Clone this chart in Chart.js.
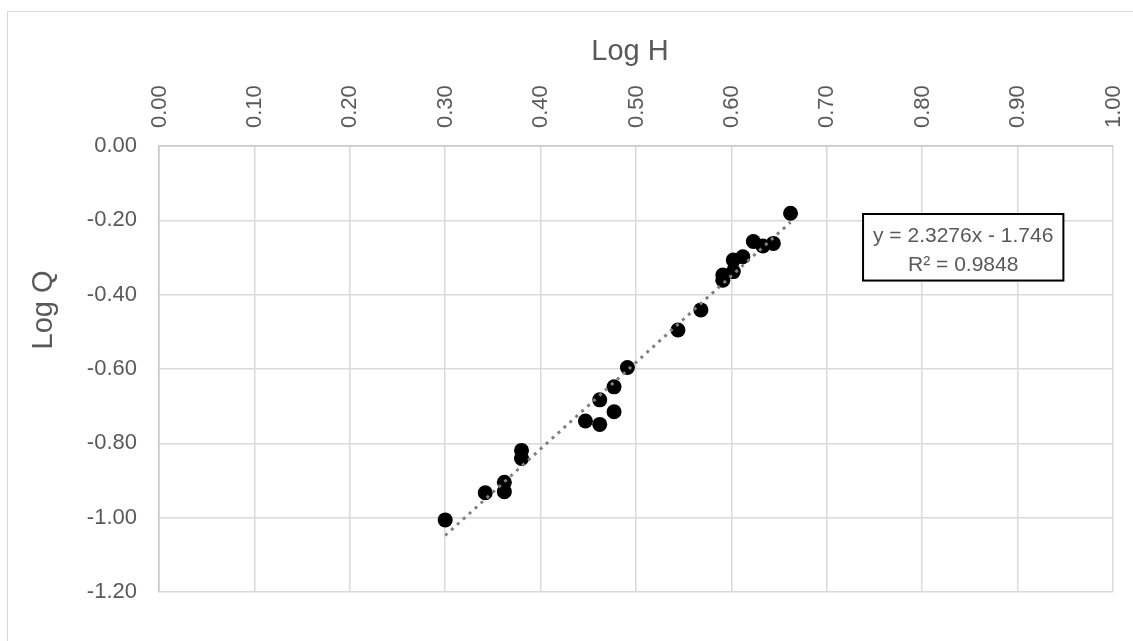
<!DOCTYPE html>
<html>
<head>
<meta charset="utf-8">
<script src="https://cdn.jsdelivr.net/npm/chart.js@4/dist/chart.umd.min.js"></script>
<style>
  html, body { margin: 0; padding: 0; background: #fff; }
  #wrap { width: 1133px; height: 641px; }
</style>
</head>
<body>
<div id="wrap"><canvas id="chart" width="1133" height="641"></canvas></div>
<script>
// Measured points (Log H, Log Q)
const logH = [0.300, 0.342, 0.362, 0.362, 0.380, 0.380, 0.447, 0.462, 0.462, 0.477, 0.477, 0.491,
              0.544, 0.568, 0.591, 0.591, 0.602, 0.602, 0.612, 0.623, 0.633, 0.644, 0.662];
const logQ = [-1.006, -0.933, -0.930, -0.905, -0.841, -0.819, -0.740, -0.749, -0.683, -0.715, -0.648, -0.596,
              -0.495, -0.441, -0.361, -0.347, -0.338, -0.307, -0.298, -0.257, -0.269, -0.262, -0.181];

// Linear trendline end points
const trendX = [0.300, 0.662];
const trendY = [-1.048, -0.205];

// Trendline label
const equationLines = ['y = 2.3276x - 1.746', 'R\u00b2 = 0.9848'];

const TEXT = '#595959';
const GRID = '#d9d9d9';
const FONT = '"Liberation Sans", Arial, sans-serif';

const points = logH.map((x, i) => ({ x: x, y: logQ[i] }));
const trend = trendX.map((x, i) => ({ x: x, y: trendY[i] }));

// Titles, outer frame and equation box
const decorPlugin = {
    id: 'decor',
    beforeDraw(chart) {
        const ctx = chart.ctx;
        ctx.save();
        ctx.strokeStyle = GRID;
        ctx.lineWidth = 1;
        ctx.strokeRect(7.5, 11.5, 1200, 700);
        ctx.restore();
    },
    afterDraw(chart) {
        const ctx = chart.ctx;
        const xs = chart.scales.x;
        const ys = chart.scales.y;
        ctx.save();
        ctx.fillStyle = TEXT;
        ctx.font = '29px ' + FONT;
        ctx.textAlign = 'center';
        ctx.textBaseline = 'alphabetic';
        ctx.fillText('Log H', 630, 60);

        ctx.translate(52, 310);
        ctx.rotate(-Math.PI / 2);
        ctx.fillText('Log Q', 0, 0);
        ctx.restore();

        // equation box, placed in data units
        const left = xs.getPixelForValue(0.738);
        const right = xs.getPixelForValue(0.948);
        const top = ys.getPixelForValue(-0.183);
        const bottom = ys.getPixelForValue(-0.362);
        ctx.save();
        ctx.fillStyle = '#fff';
        ctx.fillRect(left, top, right - left, bottom - top);
        ctx.strokeStyle = '#000';
        ctx.lineWidth = 2;
        ctx.strokeRect(left, top, right - left, bottom - top);
        ctx.fillStyle = TEXT;
        ctx.font = '21px ' + FONT;
        ctx.textAlign = 'center';
        ctx.textBaseline = 'alphabetic';
        const cx = (left + right) / 2;
        ctx.fillText(equationLines[0], cx, top + 28);
        ctx.fillText(equationLines[1], cx, top + 57);
        ctx.restore();
    }
};

const ctx = document.getElementById('chart').getContext('2d');
new Chart(ctx, {
    type: 'scatter',
    data: {
        datasets: [
            {
                label: 'Trend',
                data: trend,
                showLine: true,
                borderColor: '#7f7f7f',
                borderWidth: 3,
                borderDash: [3, 5],
                pointRadius: 0,
                order: 0
            },
            {
                label: 'Log Q',
                data: points,
                backgroundColor: '#000',
                borderWidth: 0,
                pointRadius: 7.5,
                pointHoverRadius: 7.5,
                order: 1
            }
        ]
    },
    options: {
        responsive: false,
        animation: false,
        layout: { padding: { left: 0, top: 0, right: 20, bottom: 49 } },
        plugins: {
            legend: { display: false },
            tooltip: { enabled: false }
        },
        scales: {
            x: {
                type: 'linear',
                position: 'top',
                min: 0,
                max: 1,
                afterFit: (s) => { s.height = 146; },
                grid: { color: GRID, lineWidth: 1.5, drawTicks: false },
                border: { color: '#c8c8c8', width: 1.5 },
                ticks: {
                    stepSize: 0.1,
                    autoSkip: false,
                    minRotation: 90,
                    maxRotation: 90,
                    padding: 18,
                    labelOffset: 27,
                    color: TEXT,
                    font: { family: FONT, size: 22 },
                    callback: (v) => v.toFixed(2)
                }
            },
            y: {
                type: 'linear',
                min: -1.2,
                max: 0,
                afterFit: (s) => { s.width = 159; },
                grid: { color: GRID, lineWidth: 1.5, drawTicks: false },
                border: { color: '#c8c8c8', width: 1.5 },
                ticks: {
                    stepSize: 0.2,
                    padding: 22,
                    color: TEXT,
                    font: { family: FONT, size: 22 },
                    callback: (v) => (Math.abs(v) < 1e-9 ? 0 : v).toFixed(2)
                }
            }
        }
    },
    plugins: [decorPlugin]
});
</script>
</body>
</html>
